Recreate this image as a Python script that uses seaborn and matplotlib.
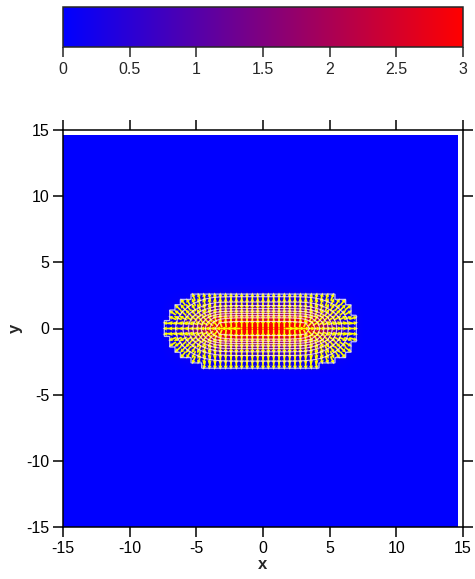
#!/usr/bin/env python3
import numpy as np
import matplotlib
matplotlib.use('Agg')
import matplotlib.pyplot as plt
import seaborn as sns

# Field profile read along the centre row (x) and centre column (y), grid step 0.4
X_POS = [-7.2, -6.8, -6.4, -6.0, -5.6, -5.2, -4.8, -4.4, -4.0, -3.6, -3.2, -2.8, -2.4,
         -2.0, -1.6, -1.2, -0.8, -0.4, 0.0, 0.4, 0.8, 1.2, 1.6, 2.0, 2.4, 2.8, 3.2,
         3.6, 4.0, 4.4, 4.8, 5.2, 5.6, 6.0, 6.4, 6.8, 7.2]
X_PROFILE = [0.04, 0.07, 0.12, 0.2, 0.3, 0.42, 0.55, 0.68, 0.8, 0.9, 0.96, 0.98, 0.99,
             1.0, 1.0, 1.0, 1.0, 1.0, 1.0, 1.0, 1.0, 1.0, 1.0, 1.0, 0.99, 0.98, 0.95,
             0.88, 0.78, 0.66, 0.53, 0.4, 0.28, 0.18, 0.1, 0.05, 0.02]
Y_POS = [-3.2, -2.8, -2.4, -2.0, -1.6, -1.2, -0.8, -0.4, 0.0, 0.4, 0.8, 1.2, 1.6, 2.0,
         2.4, 2.8, 3.2]
Y_PROFILE = [0.02, 0.05, 0.11, 0.21, 0.36, 0.56, 0.8, 0.95, 1.0, 0.95, 0.8, 0.56,
             0.35, 0.2, 0.1, 0.03, 0.01]
PEAK = 3.0
THRESHOLD = 0.1
CONTOUR_LEVELS = [0.3, 0.6, 0.9, 1.2, 1.5, 1.8, 2.1, 2.4, 2.7]
AXIS_TICKS = [-15, -10, -5, 0, 5, 10, 15]
CBAR_TICKS = [0, 0.5, 1, 1.5, 2, 2.5, 3]
CBAR_TICK_LABELS = ['0', '0.5', '1', '1.5', '2', '2.5', '3']

STEP = 0.4


def build_field():
    """Place the read profiles on the full -15..14.6 grid."""
    centres = np.round(np.arange(-14.8, 14.5, STEP), 1)
    field = np.zeros((len(centres), len(centres)))
    xi = np.searchsorted(centres, np.round(X_POS, 1))
    yi = np.searchsorted(centres, np.round(Y_POS, 1))
    field[np.ix_(yi, xi)] = PEAK * np.outer(Y_PROFILE, X_PROFILE)
    return centres, field


def main():
    sns.set_theme(style='ticks')
    plt.rcParams['font.family'] = ['Liberation Sans', 'DejaVu Sans']
    plt.rcParams['font.size'] = 11.5

    cmap = sns.blend_palette(['#0000ff', '#ff0000'], as_cmap=True)
    centres, field = build_field()

    fig = plt.figure(figsize=(4.75, 5.79), dpi=100)
    ax = fig.add_axes([63 / 475, 52 / 579, 400 / 475, 397 / 579])
    cax = fig.add_axes([63 / 475, 532 / 579, 400 / 475, 40 / 579])

    im = ax.imshow(field, extent=(-15, 14.6, -15, 14.6), origin='lower',
                   cmap=cmap, vmin=0, vmax=3, aspect='auto',
                   interpolation='bilinear')

    gx, gy = np.meshgrid(centres, centres)
    ax.contour(gx, gy, field, levels=CONTOUR_LEVELS, colors='#ffe8ff',
               linewidths=0.8, alpha=0.8)

    # Stepped outline of the region where the field is present
    mask = field > THRESHOLD
    sub = 8
    fine = np.kron(mask.astype(float), np.ones((sub, sub)))
    fc = -15 + (np.arange(fine.shape[0]) + 0.5) * STEP / sub
    ax.contour(fc, fc, fine, levels=[0.5], colors='#e8e8ff',
               linewidths=0.9, alpha=0.8)

    # Outward unit arrows where the field is present
    dy, dx = np.gradient(field)
    u, v = -dx, -dy
    norm = np.hypot(u, v)
    norm[norm == 0] = 1
    ax.quiver(gx[mask], gy[mask], (u / norm)[mask], (v / norm)[mask],
              color='#ffff00', angles='xy', scale_units='xy', scale=1.55,
              width=0.0042, headwidth=2.6, headlength=2.6, headaxislength=2.3,
              pivot='middle')

    ax.set_xlim(-15, 15)
    ax.set_ylim(-15, 15)
    ax.set_xticks(AXIS_TICKS)
    ax.set_yticks(AXIS_TICKS)
    ax.set_xticklabels([str(t) for t in AXIS_TICKS])
    ax.set_yticklabels([str(t) for t in AXIS_TICKS])
    ax.tick_params(direction='out', length=7, width=1.1, top=True, right=True,
                   colors='black', labelsize=11.5, pad=3)
    for spine in ax.spines.values():
        spine.set_visible(True)
        spine.set_linewidth(1.1)
        spine.set_color('black')
    ax.set_xlabel('x', fontweight='bold', labelpad=1)
    ax.set_ylabel('y', fontweight='bold', labelpad=2)

    cb = fig.colorbar(im, cax=cax, orientation='horizontal', ticks=CBAR_TICKS)
    cb.ax.set_xticklabels(CBAR_TICK_LABELS)
    cb.ax.tick_params(direction='out', length=7, width=1.1, labelsize=11.5)
    cb.outline.set_linewidth(1.1)

    fig.savefig('out.png', dpi=100)


if __name__ == '__main__':
    main()
